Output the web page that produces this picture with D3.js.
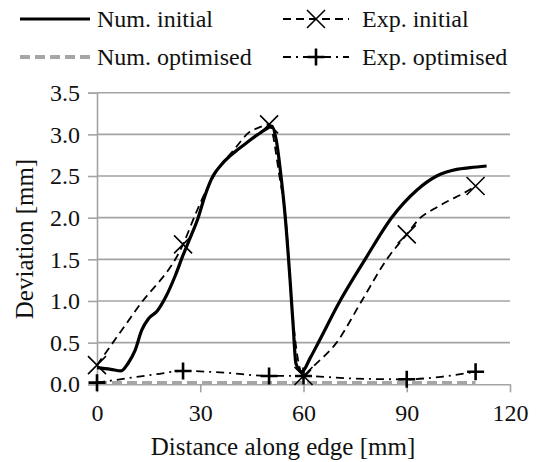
<!DOCTYPE html>
<html>
<head>
<meta charset="utf-8">
<script src="https://cdn.jsdelivr.net/npm/d3@7"></script>
<style>
  html, body { margin: 0; padding: 0; background: #fff; }
  svg { display: block; font-family: 'Liberation Serif'; }
  svg text { font-family: 'Liberation Serif' !important; }
</style>
</head>
<body>
<svg id="chart" width="536" height="462" font-family="Liberation Serif"></svg>
<script>
// ---- data ----
const xTicks = [0, 30, 60, 90, 120];
const yTicks = [0, 0.5, 1.0, 1.5, 2.0, 2.5, 3.0, 3.5];
const seriesNames = ["Num. initial", "Exp. initial", "Num. optimised", "Exp. optimised"];

const numInitialX = [0, 4, 7, 9, 11, 13, 15, 17.5, 20, 22.7, 25, 27, 29.4, 31.5, 33.7, 36, 38.6, 41, 43.5, 46.8, 49, 50.8, 52, 53.6, 54.6, 56.1, 57, 57.8, 59.5, 62, 64.3, 70.6, 77.9, 85.6, 92.9, 98.7, 104.5, 108.4, 113.2];
const numInitialY = [0.20, 0.18, 0.16, 0.25, 0.40, 0.65, 0.79, 0.88, 1.05, 1.30, 1.55, 1.75, 2.00, 2.28, 2.50, 2.63, 2.74, 2.82, 2.90, 3.00, 3.06, 3.10, 2.95, 2.45, 2.05, 1.25, 0.70, 0.25, 0.15, 0.32, 0.50, 1.00, 1.50, 2.00, 2.33, 2.50, 2.58, 2.60, 2.62];

const expInitialX = [0, 12, 25, 29, 32, 35, 39.5, 44.4, 47, 50, 53, 55, 56.5, 58, 60, 63, 69.6, 76.9, 84.2, 90, 94, 97.7, 102, 106.4, 110];
const expInitialY = [0.23, 0.93, 1.68, 2.08, 2.35, 2.57, 2.80, 3.03, 3.08, 3.12, 2.50, 1.90, 1.00, 0.40, 0.10, 0.22, 0.50, 1.00, 1.50, 1.80, 2.00, 2.10, 2.20, 2.29, 2.38];
const expInitialMarkerX = [0, 25, 50, 60, 90, 110];

const numOptimisedX = [0, 30, 60, 90, 110];
const numOptimisedY = [0.015, 0.015, 0.015, 0.015, 0.015];

const expOptimisedX = [0, 6.7, 17, 25, 37, 50, 60, 74, 90, 100, 110];
const expOptimisedY = [0.02, 0.06, 0.12, 0.16, 0.14, 0.10, 0.10, 0.07, 0.06, 0.09, 0.15];
const expOptimisedMarkerX = [0, 25, 50, 60, 90, 110];

// ---- layout ----
const svg = d3.select("#chart");
const x = d3.scaleLinear().domain([0, 120]).range([97, 510]);
const y = d3.scaleLinear().domain([0, 3.5]).range([384.3, 92.7]);
const gridColor = "#a3a3a3";

const zip = (xs, ys) => xs.map((v, i) => [v, ys[i]]);
const numInitial = zip(numInitialX, numInitialY);
const expInitial = zip(expInitialX, expInitialY);
const numOptimised = zip(numOptimisedX, numOptimisedY);
const expOptimised = zip(expOptimisedX, expOptimisedY);
const lookup = (pts, xv) => pts.find(p => p[0] === xv);

function styleText(sel, size) {
  sel.style("font-family", "'Liberation Serif'").attr("font-size", size).attr("fill", "#111");
}

// gridlines
svg.append("g").selectAll("line").data(yTicks.filter(t => t > 0)).join("line")
  .attr("x1", x(0)).attr("x2", x(120))
  .attr("y1", d => y(d)).attr("y2", d => y(d))
  .attr("stroke", gridColor).attr("stroke-width", 1.6);

// y axis
const yAxis = svg.append("g").attr("transform", `translate(${x(0)},0)`)
  .call(d3.axisLeft(y).tickValues(yTicks).tickSize(9).tickPadding(8).tickFormat(d3.format(".1f")));
yAxis.attr("font-family", null).attr("font-size", null);
yAxis.selectAll("path, line").attr("stroke", gridColor).attr("stroke-width", 1.6);
styleText(yAxis.selectAll("text"), 24);

// x axis
const xAxis = svg.append("g").attr("transform", `translate(0,${y(0)})`)
  .call(d3.axisBottom(x).tickValues(xTicks).tickSize(8).tickPadding(12).tickSizeOuter(0));
xAxis.attr("font-family", null).attr("font-size", null);
xAxis.selectAll("path, line").attr("stroke", gridColor).attr("stroke-width", 1.6);
styleText(xAxis.selectAll("text"), 24);

// axis titles
styleText(svg.append("text").attr("x", 283).attr("y", 455).attr("text-anchor", "middle")
  .text("Distance along edge [mm]"), 25);
styleText(svg.append("text").attr("transform", "translate(33,239) rotate(-90)").attr("text-anchor", "middle")
  .text("Deviation [mm]"), 25);

// lines
const line = d3.line().x(d => x(d[0])).y(d => y(d[1])).curve(d3.curveMonotoneX);
const styles = {
  numInitial: { stroke: "#000", width: 3.2, dash: null },
  expInitial: { stroke: "#000", width: 1.8, dash: "8,5" },
  numOptimised: { stroke: "#a6a6a6", width: 4, dash: "10,5" },
  expOptimised: { stroke: "#000", width: 1.8, dash: "8,5,2,5" }
};
function drawLine(pts, st) {
  svg.append("path").datum(pts).attr("d", line).attr("fill", "none")
    .attr("stroke", st.stroke).attr("stroke-width", st.width)
    .attr("stroke-dasharray", st.dash).attr("stroke-linejoin", "round");
}
drawLine(numOptimised, styles.numOptimised);
drawLine(expOptimised, styles.expOptimised);
drawLine(expInitial, styles.expInitial);
drawLine(numInitial, styles.numInitial);

function xMarker(g, cx, cy) {
  const s = 9;
  g.append("path").attr("d", `M${cx - s},${cy - s}L${cx + s},${cy + s}M${cx - s},${cy + s}L${cx + s},${cy - s}`)
    .attr("stroke", "#000").attr("stroke-width", 1.6).attr("fill", "none");
}
function plusMarker(g, cx, cy) {
  const s = 8.5;
  g.append("path").attr("d", `M${cx - s},${cy}L${cx + s},${cy}M${cx},${cy - s}L${cx},${cy + s}`)
    .attr("stroke", "#000").attr("stroke-width", 2.6).attr("fill", "none");
}
const mg = svg.append("g");
expInitialMarkerX.forEach(v => { const p = lookup(expInitial, v); xMarker(mg, x(p[0]), y(p[1])); });
expOptimisedMarkerX.forEach(v => { const p = lookup(expOptimised, v); plusMarker(mg, x(p[0]), y(p[1])); });

// legend
const legend = svg.append("g");
const legendItems = [
  { name: seriesNames[0], st: styles.numInitial, lx: 20, ly: 19, marker: null },
  { name: seriesNames[1], st: styles.expInitial, lx: 283, ly: 19, marker: "x" },
  { name: seriesNames[2], st: styles.numOptimised, lx: 20, ly: 57, marker: null },
  { name: seriesNames[3], st: styles.expOptimised, lx: 283, ly: 57, marker: "+" }
];
legendItems.forEach(it => {
  const len = it.marker ? 66 : 70;
  legend.append("line").attr("x1", it.lx).attr("x2", it.lx + len).attr("y1", it.ly).attr("y2", it.ly)
    .attr("stroke", it.st.stroke).attr("stroke-width", it.st.width).attr("stroke-dasharray", it.st.dash);
  if (it.marker === "x") xMarker(legend, it.lx + 33, it.ly);
  if (it.marker === "+") plusMarker(legend, it.lx + 33, it.ly);
  styleText(legend.append("text").attr("x", it.lx + (it.marker ? 79 : 77)).attr("y", it.ly + 8).text(it.name), 24);
});
</script>
</body>
</html>
